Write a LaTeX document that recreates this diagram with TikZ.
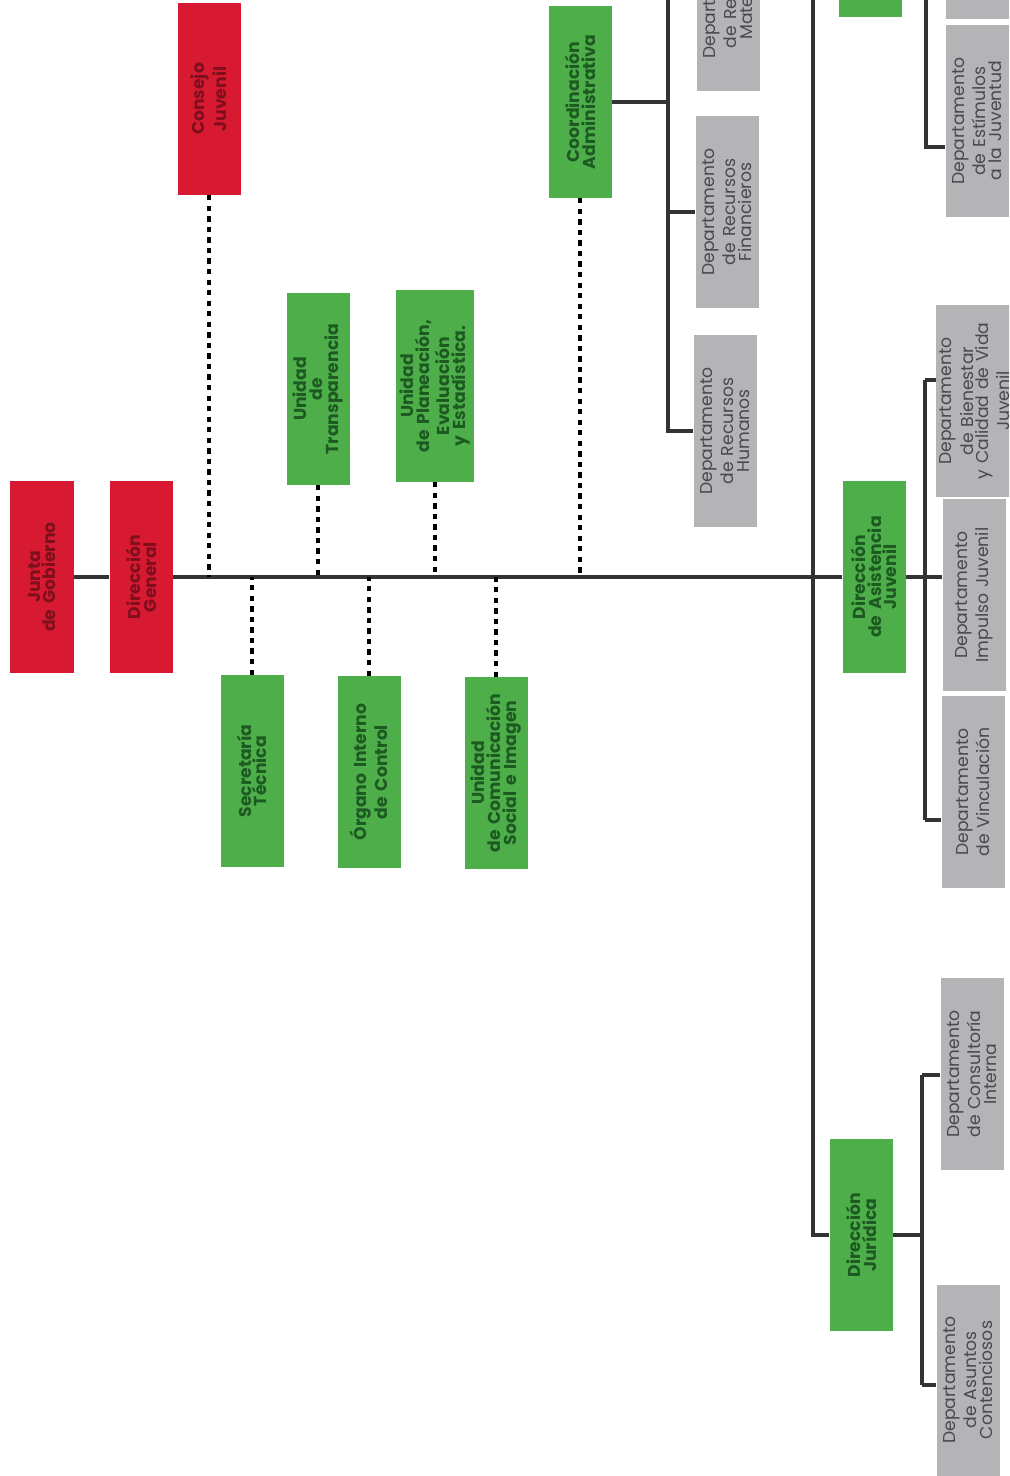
\documentclass[tikz,border=0pt]{standalone}
\usepackage{fontspec}
\setmainfont{Poppins}
\usetikzlibrary{calc}
\definecolor{orgred}{HTML}{D71A31}
\definecolor{orgredtxt}{HTML}{7E0F1C}
\definecolor{unigreen}{HTML}{4DAE4A}
\definecolor{unigreentxt}{HTML}{1D5A21}
\definecolor{deptgray}{HTML}{B4B4B7}
\definecolor{deptgraytxt}{HTML}{48484D}
\definecolor{linegray}{HTML}{333333}

\begin{document}
\begin{tikzpicture}[
  box/.style={rotate=90,minimum width=1.9cm,minimum height=0.63cm,text width=1.84cm,
    align=center,inner sep=1pt,font=\fontsize{4.9}{4.5}\selectfont},
  org/.style={box,fill=orgred,text=orgredtxt,font=\fontsize{4.9}{4.5}\selectfont\bfseries},
  unid/.style={box,fill=unigreen,text=unigreentxt,font=\fontsize{4.9}{4.5}\selectfont\bfseries},
  depto/.style={box,fill=deptgray,text=deptgraytxt},
  ln/.style={line width=1.1pt,draw=linegray},
  dl/.style={line width=1.3pt,draw=black,dash pattern=on 1.5pt off 1.5pt}]
\useasboundingbox (0,0) rectangle (10.09,-14.76);
\clip (0,0) rectangle (10.09,-14.76);
% direccion y organos de apoyo
\node[org] (jg) at (0.42,-5.77) {Junta\\de Gobierno};
\node[org] (dg) at (1.41,-5.77) {Dirección\\General};
\node[org] (cj) at (2.09,-0.99) {Consejo\\Juvenil};
\node[unid] (ut) at (3.18,-3.89) {Unidad\\de\\Transparencia};
\node[unid] (up) at (4.35,-3.86) {Unidad\\de Planeación,\\Evaluación\\y Estadística.};
\node[unid] (ca) at (5.80,-1.02) {Coordinación\\Administrativa};
\node[unid] (st) at (2.52,-7.71) {Secretaría\\Técnica};
\node[unid] (oic) at (3.69,-7.72) {Órgano Interno\\de Control};
\node[unid] (ucs) at (4.96,-7.73) {Unidad\\de Comunicación\\Social e Imagen};
% coordinacion administrativa
\node[depto] (drm) at (7.28,0.05) {Departamento\\de Recursos\\Materiales};
\node[depto] (drf) at (7.27,-2.12) {Departamento\\de Recursos\\Financieros};
\node[depto] (drh) at (7.25,-4.31) {Departamento\\de Recursos\\Humanos};
% direcciones
\node[unid] (dtop) at (8.70,0.79) {};
\node[depto] (gtop) at (9.77,0.77) {};
\node[depto] (dej) at (9.77,-1.21) {Departamento\\de Estímulos\\a la Juventud};
\node[unid] (daj) at (8.74,-5.77) {Dirección\\de Asistencia\\Juvenil};
\node[depto] (dbc) at (9.75,-4.01) {Departamento\\de Bienestar\\y Calidad de Vida\\Juvenil};
\node[depto] (dij) at (9.74,-5.95) {Departamento\\Impulso Juvenil};
\node[depto] (dvi) at (9.73,-7.92) {Departamento\\de Vinculación};
\node[unid] (dj) at (8.61,-12.35) {Dirección\\Jurídica};
\node[depto] (dci) at (9.72,-10.74) {Departamento\\de Consultoría\\Interna};
\node[depto] (dac) at (9.68,-13.80) {Departamento\\de Asuntos\\Contenciosos};
% lineas de mando
\draw[ln] (jg) -- (dg);
\draw[ln] (dg) -- (daj);
\coordinate (vtop) at (8.13,0.3);
\draw[ln] (vtop) |- (dj);
\coordinate (cabus) at (6.68,0.3);
\draw[ln] (ca) -- (ca -| cabus);
\draw[ln] (cabus) |- (drh);
\draw[ln] (drf) -- (drf -| cabus);
\draw[ln] (drm) -- (drm -| cabus);
\coordinate (ejtop) at (9.26,0.3);
\draw[ln] (ejtop) |- ($(dej.north)+(0,-0.26)$);
\coordinate (ajtop) at (9.25,-3.80);
\coordinate (ajbot) at (9.25,-8.20);
\draw[ln] (ajtop) -- (ajbot);
\draw[ln] (daj) -- (daj -| dij.north);
\draw[ln] (ajtop) -- (ajtop -| dbc.north);
\draw[ln] (ajbot) -- (ajbot -| dvi.north);
\coordinate (jtop) at (9.22,-10.75);
\coordinate (jbot) at (9.22,-13.85);
\draw[ln] (jtop) -- (jbot);
\draw[ln] (dj) -- (dj -| jtop);
\draw[ln] (jtop) -- (jtop -| dci.north);
\draw[ln] (jbot) -- (jbot -| dac.north);
% lineas de apoyo
\draw[dl] (cj) -- (cj |- dg);
\draw[dl] (ut) -- (ut |- dg);
\draw[dl] (up) -- (up |- dg);
\draw[dl] (ca) -- (ca |- dg);
\draw[dl] (st) -- (st |- dg);
\draw[dl] (oic) -- (oic |- dg);
\draw[dl] (ucs) -- (ucs |- dg);
\end{tikzpicture}
\end{document}
